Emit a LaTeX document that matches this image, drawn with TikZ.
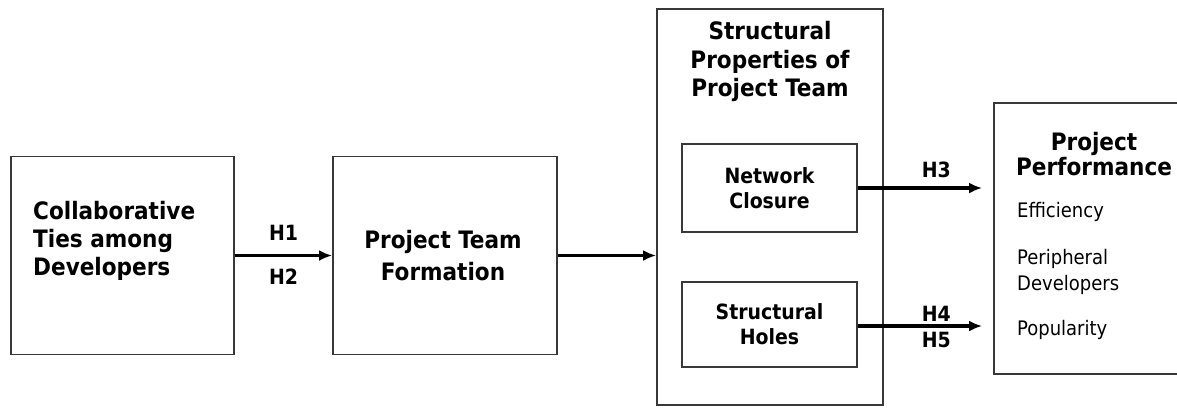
\documentclass[tikz,border=0pt]{standalone}
\usepackage{fontspec}
\setmainfont{DejaVu Sans Condensed}
\usetikzlibrary{arrows.meta, positioning, calc}

\begin{document}
\begin{tikzpicture}[x=1pt, y=-1pt,
  every node/.style={inner sep=0pt},
  box/.style={draw=black!78, line width=1.8pt, fill=white},
  title/.style={font=\fontsize{24}{28.5}\selectfont\bfseries, align=center},
  hyp/.style={font=\fontsize{21}{24}\selectfont\bfseries},
  item/.style={font=\fontsize{20}{26}\selectfont, align=left, anchor=west},
  link/.style={-{Latex[length=13pt,width=11pt]}, line width=3.2pt}
]
\useasboundingbox (0,0) rectangle (1177,407);

% boxes
\node[box, minimum width=223pt, minimum height=198pt] (ties) at (122.5,255.5) {};
\node[box, minimum width=224pt, minimum height=198pt] (form) at (445,255.5) {};
\node[box, minimum width=226pt, minimum height=396pt] (props) at (770,207) {};
\node[box, minimum width=175pt, minimum height=88pt] (closure) at (769.5,188) {};
\node[box, minimum width=175pt, minimum height=85pt] (holes) at (769.5,324.5) {};
\node[box, minimum width=196pt, minimum height=271pt] (perf) at (1092,238.5) {};

% texts
\node[title, align=left, anchor=west, font=\fontsize{24}{28}\selectfont\bfseries] (tiestxt) at (33,241)
  {Collaborative\\Ties among\\Developers};
\node[title, font=\fontsize{24}{32}\selectfont\bfseries] (formtxt) at (443,256) {Project Team\\Formation};
\node[title] (propstxt) at (770,61.5) {Structural\\Properties of\\Project Team};
\node[title, font=\fontsize{21}{25}\selectfont\bfseries] (closuretxt) at (769.5,188) {Network\\Closure};
\node[title, font=\fontsize{21}{25}\selectfont\bfseries] (holestxt) at (769.5,324.5) {Structural\\Holes};
\node[title, font=\fontsize{24}{22}\selectfont\bfseries] (perftxt) at (1094,154) {Project\\Performance};
\node[item] (eff) at (1017,212) {Efficiency};
\node[item] (periph) at (1017,272) {Peripheral\\Developers};
\node[item] (pop) at (1017,330) {Popularity};

% connectors
\draw[link] (ties) -- (form)
  node[hyp, midway, above=13pt] {H1}
  node[hyp, midway, below=12pt] {H2};
\draw[link] (form.east) -- (form.east -| props.west);
\draw[link, shorten >=11pt] (closure.east) -- (closure.east -| perf.west)
  node[hyp, pos=0.58, above=9pt] {H3};
\draw[link, shorten >=11pt] ([yshift=-1.5pt]holes.east) -- ([yshift=-1.5pt]holes.east -| perf.west)
  node[hyp, pos=0.58, above=3pt] {H4}
  node[hyp, pos=0.58, below=5pt] {H5};

\end{tikzpicture}
\end{document}
